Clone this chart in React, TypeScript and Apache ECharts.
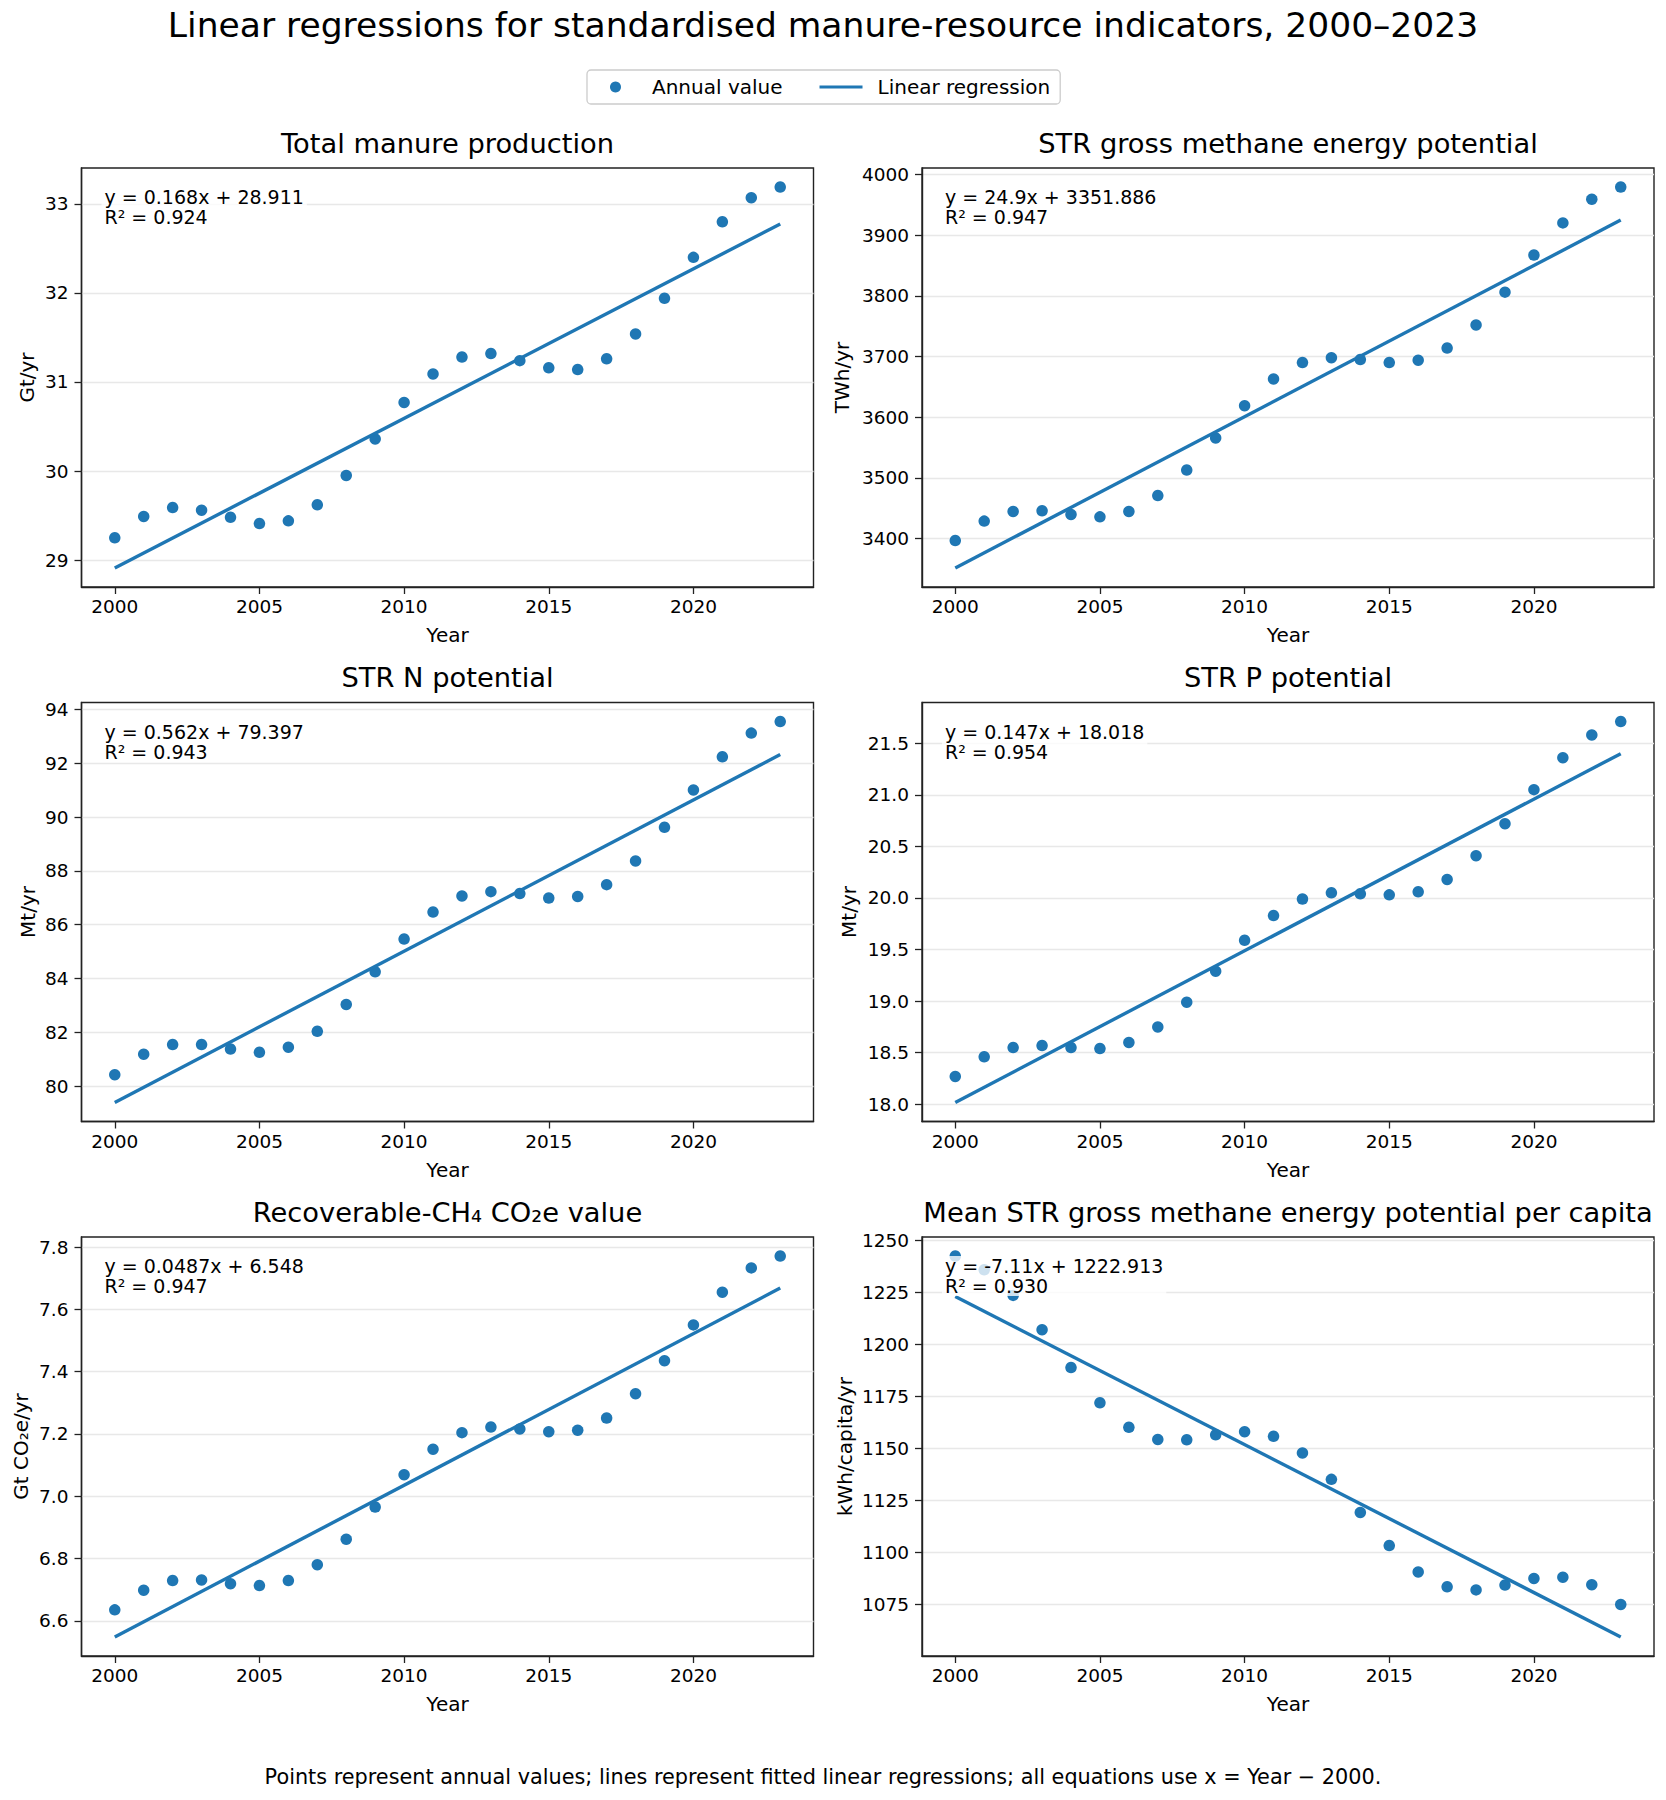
import React, { useEffect, useRef } from 'react';
import * as echarts from 'echarts';

const years = [
  2000, 2001, 2002, 2003, 2004, 2005, 2006, 2007, 2008, 2009, 2010, 2011,
  2012, 2013, 2014, 2015, 2016, 2017, 2018, 2019, 2020, 2021, 2022, 2023,
];

// annual values
const totalManure = [
  29.25, 29.49, 29.59, 29.56, 29.48, 29.41, 29.44, 29.62, 29.95, 30.36, 30.77, 31.09,
  31.28, 31.32, 31.24, 31.16, 31.14, 31.26, 31.54, 31.94, 32.4, 32.8, 33.07, 33.19,
];
const grossMethane = [
  3397, 3429, 3445, 3446, 3440, 3436, 3445, 3471, 3513, 3566, 3619, 3663,
  3690, 3698, 3695, 3690, 3694, 3714, 3752, 3806, 3867, 3920, 3959, 3979,
];
const nPotential = [
  80.43, 81.19, 81.55, 81.55, 81.38, 81.26, 81.45, 82.04, 83.04, 84.25, 85.47, 86.47,
  87.07, 87.23, 87.16, 86.99, 87.05, 87.49, 88.37, 89.62, 91.01, 92.24, 93.12, 93.55,
];
const pPotential = [
  18.27, 18.46, 18.55, 18.57, 18.55, 18.54, 18.6, 18.75, 18.99, 19.29, 19.59, 19.83,
  19.99, 20.05, 20.04, 20.03, 20.06, 20.18, 20.41, 20.72, 21.05, 21.36, 21.58, 21.71,
];
const co2eValue = [
  6.635, 6.698, 6.729, 6.731, 6.719, 6.713, 6.729, 6.78, 6.862, 6.965, 7.069, 7.151,
  7.204, 7.222, 7.216, 7.207, 7.212, 7.251, 7.329, 7.435, 7.55, 7.655, 7.733, 7.771,
];
const perCapita = [
  1242.4, 1235.8, 1223.5, 1207.0, 1188.8, 1171.9, 1160.1, 1154.3, 1154.1, 1156.5, 1158.0, 1155.8,
  1147.8, 1135.1, 1119.2, 1103.3, 1090.6, 1083.5, 1082.0, 1084.3, 1087.5, 1088.1, 1084.5, 1075.0,
];

const panelValues = [totalManure, grossMethane, nPotential, pPotential, co2eValue, perCapita];

const panelTitles = [
  'Total manure production',
  'STR gross methane energy potential',
  'STR N potential',
  'STR P potential',
  'Recoverable-CH\u2084 CO\u2082e value',
  'Mean STR gross methane energy potential per capita',
];
const yAxisNames = ['Gt/yr', 'TWh/yr', 'Mt/yr', 'Mt/yr', 'Gt CO\u2082e/yr', 'kWh/capita/yr'];

// regression y = slope * (Year - 2000) + intercept
const slopes = [0.168, 24.9, 0.562, 0.147, 0.0487, -7.11];
const intercepts = [28.911, 3351.886, 79.397, 18.018, 6.548, 1222.913];
const equationLabels = [
  'y = 0.168x + 28.911',
  'y = 24.9x + 3351.886',
  'y = 0.562x + 79.397',
  'y = 0.147x + 18.018',
  'y = 0.0487x + 6.548',
  'y = -7.11x + 1222.913',
];
const rSquaredLabels = ['0.924', '0.947', '0.943', '0.954', '0.947', '0.930'];

const xTicks = [2000, 2005, 2010, 2015, 2020];
const yTicks = [
  [29, 30, 31, 32, 33],
  [3400, 3500, 3600, 3700, 3800, 3900, 4000],
  [80, 82, 84, 86, 88, 90, 92, 94],
  [18.0, 18.5, 19.0, 19.5, 20.0, 20.5, 21.0, 21.5],
  [6.6, 6.8, 7.0, 7.2, 7.4, 7.6, 7.8],
  [1075, 1100, 1125, 1150, 1175, 1200, 1225, 1250],
];
const tickDecimals = [0, 0, 0, 1, 1, 0];

const mainTitle = 'Linear regressions for standardised manure-resource indicators, 2000\u20132023';
const footnote =
  'Points represent annual values; lines represent fitted linear regressions; all equations use x = Year \u2212 2000.';

// layout
const FONT = 'DejaVu Sans';
const BLUE = '#1f77b4';
const colLeft = [81.5, 922];
const rowTop = [168, 702.5, 1237];
const gridW = 732;
const gridH = 419;
const yNameGaps = [45, 70, 44, 63, 51, 67];

const App: React.FC = () => {
  const chartRef = useRef<HTMLDivElement>(null);

  useEffect(() => {
    document.body.style.margin = '0';
    if (!chartRef.current) return;
    const chart = echarts.init(chartRef.current, undefined, { renderer: 'svg' });

    const firstYear = years[0];
    const lastYear = years[years.length - 1];
    const xPad = (lastYear - firstYear) * 0.05;

    const grids: any[] = [];
    const xAxes: any[] = [];
    const yAxes: any[] = [];
    const series: any[] = [];
    const titles: any[] = [
      {
        text: mainTitle,
        left: 823,
        top: 5,
        textAlign: 'center',
        padding: 0,
        textStyle: { fontFamily: FONT, fontSize: 34.5, fontWeight: 'normal', color: '#000', lineHeight: 40 },
      },
      {
        text: footnote,
        left: 823,
        top: 1765,
        textAlign: 'center',
        padding: 0,
        textStyle: { fontFamily: FONT, fontSize: 20.8, fontWeight: 'normal', color: '#000', lineHeight: 24 },
      },
    ];
    const graphics: any[] = [];

    panelValues.forEach((values, i) => {
      const gl = colLeft[i % 2];
      const gt = rowTop[Math.floor(i / 2)];

      const lineStart = intercepts[i];
      const lineEnd = slopes[i] * (lastYear - 2000) + intercepts[i];
      const lo = Math.min(...values, lineStart, lineEnd);
      const hi = Math.max(...values, lineStart, lineEnd);
      const yPad = (hi - lo) * 0.05;

      grids.push({
        left: gl,
        top: gt,
        width: gridW,
        height: gridH,
        show: true,
        borderColor: '#222',
        borderWidth: 1.4,
        containLabel: false,
      });

      xAxes.push({
        type: 'value',
        gridIndex: i,
        min: firstYear - xPad,
        max: lastYear + xPad,
        name: 'Year',
        nameLocation: 'middle',
        nameGap: 38,
        nameTextStyle: { fontFamily: FONT, fontSize: 20, color: '#000' },
        axisLine: { show: true, lineStyle: { color: '#222', width: 1.4 } },
        axisTick: { show: true, length: 7, customValues: xTicks, lineStyle: { color: '#222', width: 1.3 } },
        axisLabel: {
          customValues: xTicks,
          margin: 10,
          fontFamily: FONT,
          fontSize: 18.5,
          color: '#000',
          formatter: (v: number) => String(v),
        },
        splitLine: { show: false },
      });

      yAxes.push({
        type: 'value',
        gridIndex: i,
        min: lo - yPad,
        max: hi + yPad,
        name: yAxisNames[i],
        nameLocation: 'middle',
        nameRotate: 90,
        nameGap: yNameGaps[i],
        nameTextStyle: { fontFamily: FONT, fontSize: 20, color: '#000' },
        axisLine: { show: true, lineStyle: { color: '#222', width: 1.4 } },
        axisTick: { show: true, length: 7, customValues: yTicks[i], lineStyle: { color: '#222', width: 1.3 } },
        axisLabel: {
          customValues: yTicks[i],
          margin: 13,
          fontFamily: FONT,
          fontSize: 18.5,
          color: '#000',
          formatter: (v: number) => v.toFixed(tickDecimals[i]),
        },
        splitLine: { show: true, lineStyle: { color: '#e8e8e8', width: 1.4 } },
      });

      series.push({
        type: 'scatter',
        name: 'Annual value',
        xAxisIndex: i,
        yAxisIndex: i,
        symbol: 'circle',
        symbolSize: 11.5,
        itemStyle: { color: BLUE, opacity: 1 },
        data: years.map((y, j) => [y, values[j]]),
        z: 2,
      });
      series.push({
        type: 'line',
        name: 'Linear regression',
        xAxisIndex: i,
        yAxisIndex: i,
        showSymbol: false,
        symbol: 'none',
        itemStyle: { color: BLUE },
        lineStyle: { color: BLUE, width: 3.4 },
        data: [
          [firstYear, lineStart],
          [lastYear, lineEnd],
        ],
        z: 3,
      });

      titles.push({
        text: panelTitles[i],
        left: gl + gridW / 2,
        top: gt - 25 - 16,
        textAlign: 'center',
        padding: 0,
        textStyle: { fontFamily: FONT, fontSize: 27.3, fontWeight: 'normal', color: '#000', lineHeight: 32 },
      });

      graphics.push({
        type: 'text',
        x: gl + 20,
        y: gt + 19,
        z: 100,
        style: {
          text: `${equationLabels[i]}\nR\u00b2 = ${rSquaredLabels[i]}`,
          fill: '#000',
          fontFamily: FONT,
          fontSize: 19,
          lineHeight: 20,
          align: 'left',
          verticalAlign: 'top',
          backgroundColor: 'rgba(255,255,255,0.78)',
          padding: [0, 3, 0, 3],
        },
      });
    });

    const option = {
      animation: false,
      backgroundColor: '#fff',
      textStyle: { fontFamily: FONT },
      title: titles,
      legend: {
        left: 587,
        top: 70,
        orient: 'horizontal',
        padding: [7, 10, 7, 23],
        itemGap: 37,
        itemWidth: 43,
        itemHeight: 11,
        borderColor: '#cccccc',
        borderWidth: 1.3,
        borderRadius: 4,
        backgroundColor: '#fff',
        textStyle: { fontFamily: FONT, fontSize: 20, color: '#000', padding: [0, 0, 0, 10] },
        data: [
          { name: 'Annual value', icon: 'circle' },
          { name: 'Linear regression', icon: 'path://M0 0H43V3H0Z' },
        ],
      },
      grid: grids,
      xAxis: xAxes,
      yAxis: yAxes,
      series,
      graphic: graphics,
    };

    chart.setOption(option);

    return () => {
      chart.dispose();
    };
  }, []);

  return <div ref={chartRef} style={{ width: '1666px', height: '1800px' }} />;
};

export default App;
